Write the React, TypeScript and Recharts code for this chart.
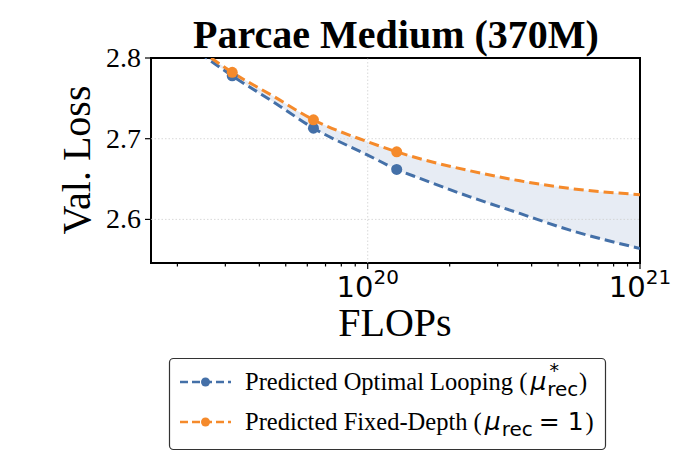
import React from 'react';
import {
  ComposedChart, Line, Area, Scatter, XAxis, YAxis, ReferenceLine, ReferenceArea,
} from 'recharts';

// ─── Data ─────────────────────────────────────────────────────────────────────
const CURVE_FLOPS = [
  2.4e19, 3.18e19, 4.5e19, 6.32e19, 1e20, 1.278e20, 1.556e20, 2.376e20, 3.62e20, 5.53e20, 1e21,
];
const CURVE_OPTIMAL = [
  2.807, 2.7779, 2.7457, 2.7131, 2.6797, 2.662, 2.6508, 2.628, 2.6074, 2.5867, 2.564,
];
const CURVE_FIXED = [
  2.811, 2.7822, 2.7527, 2.7234, 2.6962, 2.6838, 2.6752, 2.6602, 2.6478, 2.6384, 2.6307,
];

const POINT_FLOPS = [3.18e19, 6.32e19, 1.278e20];
const POINT_OPTIMAL = [2.7779, 2.7131, 2.662];
const POINT_FIXED = [2.7822, 2.7234, 2.6838];

const X_DOMAIN = [1.6e19, 1e21];
const Y_DOMAIN = [2.546, 2.8];
const X_TICKS = [
  2e19, 3e19, 4e19, 5e19, 6e19, 7e19, 8e19, 9e19, 1e20,
  2e20, 3e20, 4e20, 5e20, 6e20, 7e20, 8e20, 9e20, 1e21,
];
const Y_TICKS = [2.6, 2.7, 2.8];

const BLUE = '#4470a8';
const ORANGE = '#f58a2b';
const SERIF = '"Liberation Serif", "Times New Roman", serif';
const MATH = '"DejaVu Sans", sans-serif';

const curveData = CURVE_FLOPS.map((flops, i) => ({
  flops,
  optimal: CURVE_OPTIMAL[i],
  fixed: CURVE_FIXED[i],
  band: [CURVE_OPTIMAL[i], CURVE_FIXED[i]],
}));
const optimalPoints = POINT_FLOPS.map((flops, i) => ({ flops, loss: POINT_OPTIMAL[i] }));
const fixedPoints = POINT_FLOPS.map((flops, i) => ({ flops, loss: POINT_FIXED[i] }));

// ─── Ticks ────────────────────────────────────────────────────────────────────
const XTick: React.FC<any> = ({ x, y, payload }) => {
  const exp = Math.log10(payload.value);
  const major = Math.abs(exp - Math.round(exp)) < 1e-6;
  return (
    <g>
      <line x1={x} x2={x} y1={y} y2={y + (major ? 6 : 3.5)} stroke="#000" strokeWidth={1.2} />
      {major && (
        <text x={x} y={y + 34} textAnchor="middle" fontFamily={MATH} fontSize={29} fill="#000">
          10<tspan fontSize={20} dy={-13}>{Math.round(exp)}</tspan>
        </text>
      )}
    </g>
  );
};

const YTick: React.FC<any> = ({ x, y, payload }) => (
  <g>
    <line x1={x - 6} x2={x} y1={y} y2={y} stroke="#000" strokeWidth={1.2} />
    <text x={x - 10} y={y + 9} textAnchor="end" fontFamily={SERIF} fontSize={28} fill="#000">
      {payload.value.toFixed(1)}
    </text>
  </g>
);

// ─── Legend ───────────────────────────────────────────────────────────────────
const LegendSample: React.FC<{ y: number; color: string }> = ({ y, color }) => (
  <g>
    <line x1={180} x2={231} y1={y} y2={y} stroke={color} strokeWidth={2.5} strokeDasharray="8 4" />
    <circle cx={205.5} cy={y} r={4.5} fill={color} />
  </g>
);

const Overlay: React.FC = () => (
  <svg width={680} height={475} style={{ position: 'absolute', left: 0, top: 0, pointerEvents: 'none' }}>
    <text x={396} y={48} textAnchor="middle" fontFamily={SERIF} fontWeight="bold" fontSize={40}>
      Parcae Medium (370M)
    </text>
    <text transform="translate(90,160) rotate(-90)" textAnchor="middle" fontFamily={SERIF} fontSize={40}>
      Val. Loss
    </text>
    <text x={395} y={336} textAnchor="middle" fontFamily={SERIF} fontSize={40}>
      FLOPs
    </text>

    <rect x={169.5} y={358.5} width={436} height={91} rx={4} fill="#fff" stroke="#333" strokeWidth={1.2} />
    <LegendSample y={382} color={BLUE} />
    <text x={245} y={390} fontFamily={SERIF} fontSize={24.5}>
      Predicted Optimal Looping (
      <tspan fontFamily={MATH} fontStyle="italic" fontSize={25} dx={3}>μ</tspan>
      <tspan fontFamily={MATH} fontSize={20} dx={1} dy={6}>rec</tspan>
      <tspan fontFamily={MATH} fontSize={19} dx={-29} dy={-19}>*</tspan>
      <tspan dx={20} dy={13}>)</tspan>
    </text>
    <LegendSample y={422} color={ORANGE} />
    <text x={245} y={430} fontFamily={SERIF} fontSize={24.5}>
      Predicted Fixed-Depth (
      <tspan fontFamily={MATH} fontStyle="italic" fontSize={25} dx={3}>μ</tspan>
      <tspan fontFamily={MATH} fontSize={20} dx={1} dy={6}>rec</tspan>
      <tspan fontFamily={MATH} fontSize={25} dx={6} dy={-6}>= 1</tspan>
      <tspan dx={2}>)</tspan>
    </text>
  </svg>
);

// ─── Chart ────────────────────────────────────────────────────────────────────
export default function App() {
  return (
    <div style={{ position: 'absolute', left: 0, top: 0, width: 680, height: 475, background: '#fff' }}>
      <ComposedChart
        width={680}
        height={475}
        data={curveData}
        margin={{ top: 58, right: 40, bottom: 172, left: 91 }}
      >
        <XAxis
          dataKey="flops"
          type="number"
          scale="log"
          domain={X_DOMAIN}
          allowDataOverflow
          ticks={X_TICKS}
          interval={0}
          tick={<XTick />}
          tickLine={false}
          tickSize={0}
          tickMargin={0}
          axisLine={false}
          height={40}
        />
        <YAxis
          type="number"
          domain={Y_DOMAIN}
          allowDataOverflow
          ticks={Y_TICKS}
          interval={0}
          tick={<YTick />}
          tickLine={false}
          tickSize={0}
          tickMargin={0}
          axisLine={false}
          width={60}
        />

        <ReferenceLine y={2.7} stroke="#cfcfcf" strokeWidth={0.8} strokeDasharray="1.5 2" />
        <ReferenceLine y={2.6} stroke="#cfcfcf" strokeWidth={0.8} strokeDasharray="1.5 2" />
        <ReferenceLine x={1e20} stroke="#cfcfcf" strokeWidth={0.8} strokeDasharray="1.5 2" />

        <Area
          dataKey="band" type="monotone" fill={BLUE} fillOpacity={0.13}
          stroke="none" isAnimationActive={false}
        />
        <Line
          dataKey="optimal" type="monotone" stroke={BLUE} strokeWidth={3}
          strokeDasharray="10 5" dot={false} isAnimationActive={false}
        />
        <Line
          dataKey="fixed" type="monotone" stroke={ORANGE} strokeWidth={3}
          strokeDasharray="10 5" dot={false} isAnimationActive={false}
        />
        <Scatter
          data={optimalPoints} dataKey="loss" fill={BLUE}
          shape={(p: any) => <circle cx={p.cx} cy={p.cy} r={5.5} fill={BLUE} />}
          isAnimationActive={false}
        />
        <Scatter
          data={fixedPoints} dataKey="loss" fill={ORANGE}
          shape={(p: any) => <circle cx={p.cx} cy={p.cy} r={5.5} fill={ORANGE} />}
          isAnimationActive={false}
        />

        <ReferenceArea
          x1={X_DOMAIN[0]} x2={X_DOMAIN[1]} y1={Y_DOMAIN[0]} y2={Y_DOMAIN[1]}
          fill="none" stroke="#000" strokeWidth={2} ifOverflow="visible"
        />
      </ComposedChart>
      <Overlay />
    </div>
  );
}
